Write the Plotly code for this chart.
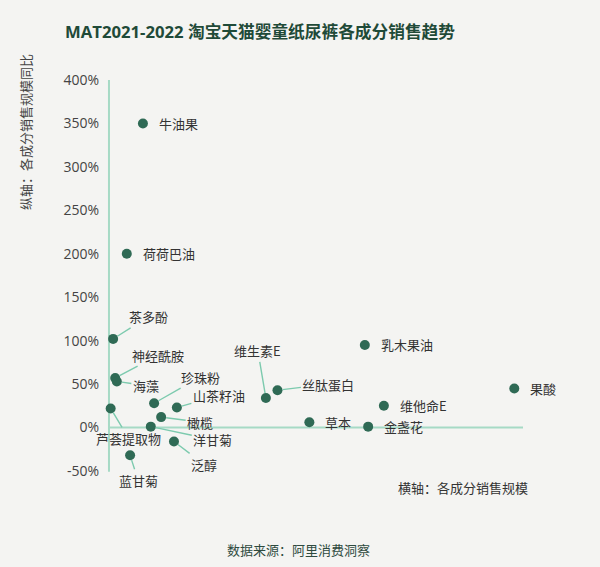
import plotly.graph_objects as go

# ---- data ----
ingredients = ["牛油果", "荷荷巴油", "茶多酚", "神经酰胺", "海藻", "芦荟提取物", "珍珠粉",
               "山茶籽油", "橄榄", "洋甘菊", "泛醇", "蓝甘菊", "维生素E", "丝肽蛋白",
               "乳木果油", "果酸", "维他命E", "草本", "金盏花"]
sales_scale = [8.2, 4.3, 1.0, 1.5, 1.9, 0.4, 10.9, 16.4, 12.6, 10.1, 15.7, 5.1,
               37.9, 40.7, 61.8, 97.9, 66.4, 48.4, 62.6]
yoy_growth = [350, 200, 102, 57, 53, 22, 28, 23, 12, 1, -16, -32,
              34, 43, 95, 45, 25, 6, 1]
y_ticks = [-50, 0, 50, 100, 150, 200, 250, 300, 350, 400]
y_tick_labels = [f"{v}%" for v in y_ticks]

# label placement (pixel offsets) ; others => plain label to the right
label_offsets = {
    "茶多酚": (35, -22), "神经酰胺": (43, -23), "海藻": (29, 4), "芦荟提取物": (18, 30),
    "珍珠粉": (46, -26), "山茶籽油": (42, -12), "橄榄": (39, 5), "洋甘菊": (62, 13),
    "泛醇": (30, 23), "蓝甘菊": (8, 25), "维生素E": (-8, -47), "丝肽蛋白": (51, -6),
}

CJK = "Noto Sans CJK SC"
BG = "#f4f4f2"
LINE = "#a6dac5"
LEADER = "#7ccaae"
DOT = "#2f6a55"

fig = go.Figure()
fig.add_trace(go.Scatter(
    x=sales_scale, y=yoy_growth, mode="markers",
    marker=dict(size=10, color=DOT, line=dict(width=0)),
    hoverinfo="text", text=ingredients, showlegend=False))

annotations = []
for name, xv, yv in zip(ingredients, sales_scale, yoy_growth):
    if name in label_offsets:
        ax, ay = label_offsets[name]
        annotations.append(dict(x=xv, y=yv, text=name, showarrow=True, ax=ax, ay=ay,
                                arrowhead=0, arrowwidth=1.4, arrowcolor=LEADER, standoff=5,
                                font=dict(family=CJK, size=13, color="#333333")))
    else:
        annotations.append(dict(x=xv, y=yv, text=name, showarrow=False, xanchor="left",
                                xshift=14, font=dict(family=CJK, size=13, color="#333333")))

# axis titles / footnotes
annotations.append(dict(xref="paper", yref="paper", x=(25 - 100) / 480, y=(490 - 132) / 420,
                        xanchor="center", yanchor="middle",
                        text="纵轴：各成分销售规模同比", textangle=-90, showarrow=False,
                        font=dict(family=CJK, size=13, color="#444444")))
annotations.append(dict(xref="paper", yref="paper", x=(396 - 100) / 480, y=(490 - 487) / 420,
                        xanchor="left", yanchor="middle", text="横轴：各成分销售规模", showarrow=False,
                        font=dict(family=CJK, size=13, color="#333333")))
annotations.append(dict(xref="paper", yref="paper", x=(298 - 100) / 480, y=(490 - 549) / 420,
                        xanchor="center", yanchor="middle",
                        text="数据来源：阿里消费洞察", showarrow=False,
                        font=dict(family=CJK, size=13, color="#2e4a3e")))

shapes = [
    dict(type="line", xref="x", yref="y", x0=0, x1=100, y0=0, y1=0,
         line=dict(color=LINE, width=2), layer="below"),
    dict(type="line", xref="x", yref="y", x0=0, x1=0, y0=-51, y1=400,
         line=dict(color=LINE, width=2), layer="below"),
]

fig.update_layout(
    width=600, height=567,
    margin=dict(l=100, r=20, t=70, b=77),
    paper_bgcolor=BG, plot_bgcolor=BG,
    title=dict(text="<b>MAT2021-2022 淘宝天猫婴童纸尿裤各成分销售趋势</b>",
               x=260 / 600, xref="container", xanchor="center", y=1 - 32 / 567, yanchor="middle",
               font=dict(family="Open Sans, " + CJK, size=16.7, color="#1f4a38")),
    xaxis=dict(range=[-2.17, 113.77], showgrid=False, zeroline=False,
               showticklabels=False, ticks="", showline=False),
    yaxis=dict(range=[-71.9, 411.5], showgrid=False, zeroline=False, showline=False,
               tickvals=y_ticks, ticktext=y_tick_labels, ticks="",
               tickfont=dict(family="Open Sans", size=14, color="#444444")),
    annotations=annotations, shapes=shapes,
)

fig.write_html("out.html")
